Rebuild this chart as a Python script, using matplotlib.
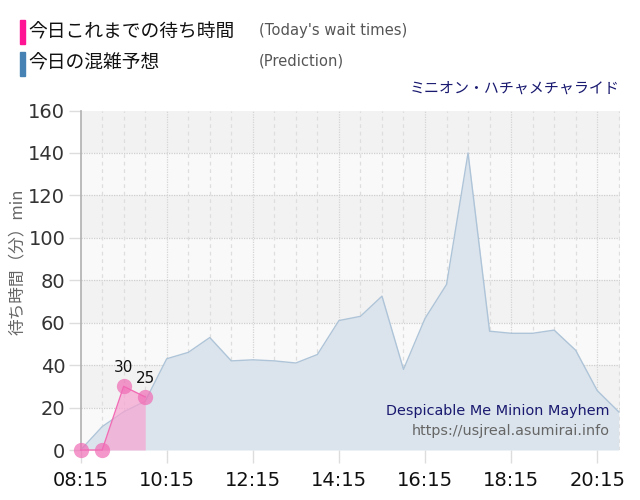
import matplotlib
matplotlib.use("Agg")
import matplotlib.pyplot as plt
import numpy as np

plt.rcParams['font.family'] = ['DejaVu Sans', 'Noto Sans CJK JP']

# ---- data ----
pred_times = ["08:15", "08:45", "09:15", "09:45", "10:15", "10:45", "11:15", "11:45",
              "12:15", "12:45", "13:15", "13:45", "14:15", "14:45", "15:15", "15:45",
              "16:15", "16:45", "17:15", "17:45", "18:15", "18:45", "19:15", "19:45",
              "20:15", "20:45"]
pred_values = [0, 11, 18, 23, 43, 46, 53, 42, 42.5, 42, 41, 45, 61, 63, 72.5, 38,
               62, 78, 140, 56, 55, 55, 56.5, 47, 28, 18]

actual_times = ["08:15", "08:45", "09:15", "09:45"]
actual_values = [0, 0, 30, 25]

xtick_labels = ["08:15", "10:15", "12:15", "14:15", "16:15", "18:15", "20:15"]
yticks = [0, 20, 40, 60, 80, 100, 120, 140, 160]

title = "ミニオン・ハチャメチャライド"
legend_jp = ["今日これまでの待ち時間", "今日の混雑予想"]
legend_en = ["(Today's wait times)", "(Prediction)"]
ylabel = "待ち時間（分）min"
ride_en = "Despicable Me Minion Mayhem"
url = "https://usjreal.asumirai.info"


def to_min(s):
    h, m = s.split(":")
    return int(h) * 60 + int(m)


px = np.array([to_min(t) for t in pred_times])
ax_ = np.array([to_min(t) for t in actual_times])

fig = plt.figure(figsize=(6.4, 5.0), dpi=100)
ax = fig.add_axes([0.126, 0.1, 0.843, 0.679])

x0 = to_min("08:15")
x1 = x0 + 752
ax.set_xlim(x0, x1)
ax.set_ylim(0, 160)

# alternating bands
for i, lo in enumerate(range(0, 160, 20)):
    col = "#f2f2f2" if (i % 2 == 1) else "#f9f9f9"
    ax.axhspan(lo, lo + 20, color=col, zorder=0, lw=0)

# grid
for y in yticks[1:-1]:
    ax.axhline(y, color="#cfcfcf", lw=0.9, ls=(0, (1, 1)), zorder=1)
for m in range(x0 + 30, x1, 30):
    if (m - x0) % 120 == 0:
        ax.axvline(m, color="#d5d5d5", lw=0.9, ls=(0, (1, 1)), zorder=1)
    else:
        ax.axvline(m, color="#dedede", lw=0.9, ls=(0, (3, 3)), zorder=1)

# prediction area
ax.fill_between(px, pred_values, 0, color="#dbe4ec", zorder=2, lw=0)
ax.plot(px, pred_values, color="#aec4d8", lw=1.0, zorder=3)

# actual
ax.fill_between(ax_, actual_values, 0, color="#f7a3d0", alpha=0.7, zorder=4, lw=0)
ax.plot(ax_, actual_values, color="#f26cb5", lw=1.0, zorder=5, clip_on=False)
ax.plot(ax_, actual_values, "o", ms=11, color="#f06bb5", alpha=0.7, mec="none",
        zorder=6, clip_on=False)
for t, v in zip(ax_, actual_values):
    if v > 0:
        ax.annotate(str(v), (t, v), xytext=(0, 8), textcoords="offset points",
                    ha="center", va="bottom", fontsize=11, color="#111", zorder=7)

# axes styling
for s in ["top", "right", "bottom"]:
    ax.spines[s].set_visible(False)
ax.spines["left"].set_color("#b0b0b0")
ax.spines["left"].set_linewidth(1.2)

ax.set_yticks(yticks)
ax.set_yticklabels([str(v) for v in yticks], fontsize=14, color="#333333")
ax.tick_params(axis="y", length=9, color="#dddddd", width=1, pad=2)

ax.set_xticks([to_min(t) for t in xtick_labels])
ax.set_xticklabels(xtick_labels, fontsize=14, color="#111111")
ax.tick_params(axis="x", length=9, color="#dddddd", width=1, pad=6)

fig.text(0.027, 1 - 262 / 500, ylabel, rotation=90, ha="center", va="center",
         fontsize=12, color="#666666", family=['Noto Sans CJK JP', 'DejaVu Sans'])

# legend
fig.patches.append(plt.Rectangle((20 / 640, 1 - 44 / 500), 5 / 640, 24 / 500,
                                 transform=fig.transFigure, color="#ff1493"))
fig.patches.append(plt.Rectangle((20 / 640, 1 - 76 / 500), 5 / 640, 24 / 500,
                                 transform=fig.transFigure, color="#4682b4"))
fig.text(28 / 640, 1 - 32 / 500, legend_jp[0], fontsize=13.5, va="center", ha="left",
         family=['Noto Sans CJK JP'], color="#111")
fig.text(28 / 640, 1 - 63 / 500, legend_jp[1], fontsize=13.5, va="center", ha="left",
         family=['Noto Sans CJK JP'], color="#111")
fig.text(259 / 640, 1 - 31 / 500, legend_en[0], fontsize=10.6, va="center", ha="left",
         color="#555555")
fig.text(259 / 640, 1 - 61 / 500, legend_en[1], fontsize=10.6, va="center", ha="left",
         color="#555555")

fig.text(620 / 640, 1 - 89 / 500, title, fontsize=10.8, va="center", ha="right",
         family=['Noto Sans CJK JP'], color="#191970")

fig.text(610 / 640, 1 - 411 / 500, ride_en, fontsize=10.4, va="center", ha="right",
         color="#191970", zorder=10)
fig.text(610 / 640, 1 - 431 / 500, url, fontsize=10.4, va="center", ha="right",
         color="#666666", zorder=10)

fig.savefig("out.png", dpi=100)
